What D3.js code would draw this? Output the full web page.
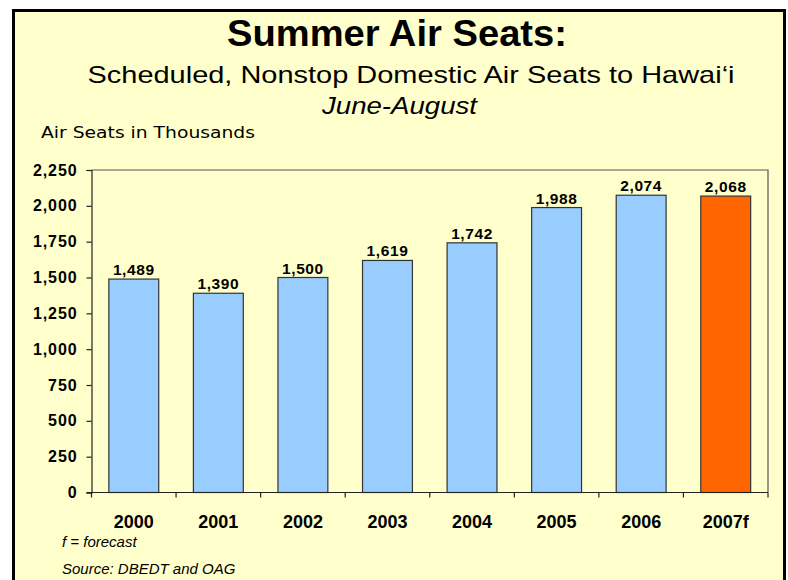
<!DOCTYPE html>
<html>
<head>
<meta charset="utf-8">
<script src="https://cdn.jsdelivr.net/npm/d3@7"></script>
<style>
  html, body { margin: 0; padding: 0; background: #ffffff; }
  svg { display: block; }
  text { font-family: Arial, "Liberation Sans", sans-serif; }
</style>
</head>
<body>
<svg id="chart" width="788" height="580"></svg>
<script>
const categories = ["2000", "2001", "2002", "2003", "2004", "2005", "2006", "2007f"];
const seats = [1489, 1390, 1500, 1619, 1742, 1988, 2074, 2068];
const forecast = [false, false, false, false, false, false, false, true];
const yTicks = [0, 250, 500, 750, 1000, 1250, 1500, 1750, 2000, 2250];

const svg = d3.select("#chart");

// frame
svg.append("rect").attr("x", 13.5).attr("y", 10.5).attr("width", 771).attr("height", 600)
  .attr("fill", "#FFFFCC").attr("stroke", "#000").attr("stroke-width", 3);

// titles
svg.append("text").attr("x", 227).attr("y", 46)
  .attr("font-size", 36).attr("font-weight", "bold")
  .attr("textLength", 340).attr("lengthAdjust", "spacingAndGlyphs")
  .text("Summer Air Seats:");
svg.append("text").attr("x", 87.5).attr("y", 83)
  .attr("font-size", 24)
  .attr("textLength", 647).attr("lengthAdjust", "spacingAndGlyphs")
  .text("Scheduled, Nonstop Domestic Air Seats to Hawai\u2018i");
svg.append("text").attr("x", 322).attr("y", 114)
  .attr("font-size", 24).attr("font-style", "italic")
  .attr("textLength", 155).attr("lengthAdjust", "spacingAndGlyphs")
  .text("June-August");
svg.append("text").attr("x", 41).attr("y", 138).attr("font-size", 16)
  .attr("textLength", 214).attr("lengthAdjust", "spacingAndGlyphs")
  .style("font-family", "Verdana, 'DejaVu Sans', sans-serif").text("Air Seats in Thousands");

const plot = { left: 91.5, right: 768, top: 170, bottom: 492.5 };

const x = d3.scaleBand().domain(categories).range([plot.left, plot.right])
  .paddingInner(0.41).paddingOuter(0.205);
const y = d3.scaleLinear().domain([0, 2250]).range([plot.bottom, plot.top]);

// plot area border (top & right)
svg.append("path")
  .attr("d", `M${plot.left},${plot.top}H${plot.right}V${plot.bottom}`)
  .attr("fill", "none").attr("stroke", "#555").attr("stroke-width", 1.2);

// bars
svg.selectAll("rect.bar").data(categories).enter().append("rect")
  .attr("class", "bar")
  .attr("x", d => x(d))
  .attr("y", (d, i) => y(seats[i]))
  .attr("width", x.bandwidth())
  .attr("height", (d, i) => y(0) - y(seats[i]))
  .attr("fill", (d, i) => forecast[i] ? "#FF6600" : "#99CCFF")
  .attr("stroke", "#333").attr("stroke-width", 1.2);

// value labels
svg.selectAll("text.val").data(categories).enter().append("text")
  .attr("class", "val")
  .attr("x", d => x(d) + x.bandwidth() / 2)
  .attr("y", (d, i) => y(seats[i]) - 4)
  .attr("text-anchor", "middle")
  .attr("font-size", 15.5).attr("font-weight", "bold")
  .attr("letter-spacing", 0.6)
  .text((d, i) => d3.format(",")(seats[i]));

// y axis
const yAxis = d3.axisLeft(y).tickValues(yTicks).tickFormat(d3.format(",")).tickSize(5).tickPadding(9);
const gy = svg.append("g").attr("transform", `translate(${plot.left},0)`).call(yAxis);
gy.select(".domain").attr("stroke", "#222").attr("stroke-width", 1.2);
gy.selectAll(".tick line").attr("stroke", "#222").attr("stroke-width", 1.2);
gy.selectAll(".tick text").attr("font-size", 16).attr("font-weight", "bold")
  .attr("fill", "#000").attr("letter-spacing", 0.9)
  .style("font-family", "Arial, 'Liberation Sans', sans-serif");

// x axis line + boundary ticks
svg.append("line").attr("x1", plot.left - 5).attr("x2", plot.right)
  .attr("y1", plot.bottom).attr("y2", plot.bottom)
  .attr("stroke", "#222").attr("stroke-width", 1.2);
const boundaries = categories.map(d => x(d) - x.step() * x.paddingInner() / 2).concat([plot.right]);
svg.selectAll("line.xt").data(boundaries).enter().append("line")
  .attr("class", "xt")
  .attr("x1", d => d).attr("x2", d => d)
  .attr("y1", plot.bottom).attr("y2", plot.bottom + 5)
  .attr("stroke", "#222").attr("stroke-width", 1.2);

svg.selectAll("text.xl").data(categories).enter().append("text")
  .attr("class", "xl")
  .attr("x", d => x(d) + x.bandwidth() / 2)
  .attr("y", 528)
  .attr("text-anchor", "middle")
  .attr("font-size", 18).attr("font-weight", "bold")
  .text(d => d);

// notes
svg.append("text").attr("x", 62).attr("y", 547).attr("font-size", 15)
  .attr("font-style", "italic").text("f = forecast");
svg.append("text").attr("x", 62).attr("y", 574).attr("font-size", 15)
  .attr("font-style", "italic").text("Source: DBEDT and OAG");
</script>
</body>
</html>
